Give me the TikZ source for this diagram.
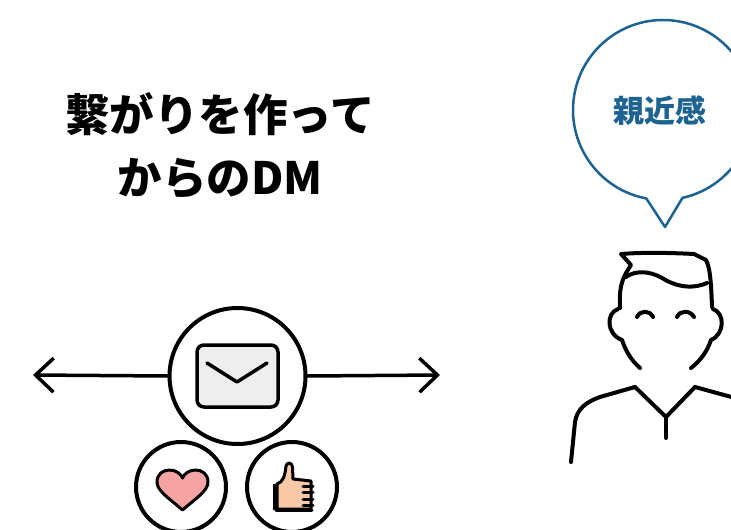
\documentclass[tikz,border=0pt]{standalone}
\usepackage{fontspec}
\setmainfont{Noto Sans CJK JP}
\usepackage{xcolor}
\usetikzlibrary{arrows.meta, positioning, calc}

\definecolor{talkblue}{HTML}{1C6392}
\definecolor{mailgray}{HTML}{EEEEEE}
\definecolor{heartpink}{HTML}{F6A3A3}
\definecolor{skin}{HTML}{F9C8A6}

\begin{document}
\begin{tikzpicture}[x=1pt,y=-1pt,line width=4pt,line cap=round,line join=round,
	>={Straight Barb[length=18pt,width=34pt]}]
	\tikzstyle{ring}=[circle,draw,line width=4pt,inner sep=0pt]
	\tikzstyle{icon}=[line width=3pt]
	\clip (0,0) rectangle (731,530);

	% heading
	\node[align=center,font=\bfseries\fontsize{44.5}{63}\selectfont] (title) at (220,146)
		{繋がりを作って\\からのDM};

	% speech bubble
	\coordinate (bc) at (663,110);
	\draw[talkblue,line width=2.5pt] ($(bc)+(100.7:90)$) arc[start angle=100.7,end angle=437.5,radius=90]
		-- (665,227) -- cycle;
	\node[talkblue,font=\bfseries\fontsize{31}{32}\selectfont] (feel) at (660,111) {親近感};

	% DM in the middle, arrows both ways
	\node[ring,minimum size=136pt] (mail) at (237.5,376) {};
	\coordinate (ltip) at (33,375);
	\coordinate (rtip) at (440,375);
	\draw[->,line width=3.5pt] (mail.west) -- (ltip);
	\draw[->,line width=3.5pt] (mail.east) -- (rtip);
	\draw[icon,line width=3.5pt,fill=mailgray,rounded corners=7pt] (197,345) rectangle (278,407);
	\draw[icon,line width=3.5pt] (207,363) -- (237,382) -- (267,363);

	% like and thumbs up
	\node[ring,minimum size=90pt] (heart) at (181,487) {};
	\node[ring,minimum size=90pt] (thumb) [right=17pt of heart] {};
	\draw[icon,fill=heartpink] (182.5,510) .. controls (170,499) and (157,491) .. (157,482)
		.. controls (157,474) and (163,470) .. (169.5,470)
		.. controls (176,470) and (181,474) .. (182.5,478)
		.. controls (184,474) and (189,470) .. (195.5,470)
		.. controls (202,470) and (208,474) .. (208,482)
		.. controls (208,491) and (195,499) .. (182.5,510) -- cycle;
	\draw[icon,fill=skin] (277,484) .. controls (283,482) and (285,476) .. (286,466)
		.. controls (287,462) and (292,462) .. (292.5,467) -- (293,479) -- (311,481)
		-- (311,509) -- (277,509) -- cycle;
	\draw[icon,line width=5pt,line cap=butt] (275,484) -- (275,510);
	\draw[icon] (276,510) -- (312,510);
	\foreach \fy in {486,492.5,499,505.5}
		\draw[icon] (303,\fy) -- (313,\fy);

	% person
	\draw (620,308) .. controls (619,292) and (621,282) .. (626,273) -- (631,265) -- (621,254)
		.. controls (645,252) and (675,253) .. (694,254) -- (706,260) .. controls (710,268) and (711,280) .. (712,307);
	\draw (626,277) .. controls (634,271) and (648,270) .. (662,278)
		.. controls (675,286) and (690,290) .. (707,283);
	\draw (618,309) .. controls (606,313) and (606,334) .. (622,340)
		.. controls (626,352) and (632,361) .. (640,368);
	\draw (713,309) .. controls (725,313) and (725,334) .. (711,340)
		.. controls (707,352) and (700,361) .. (691,368);
	\draw (637,317) .. controls (640,310) and (650,310) .. (653,317);
	\draw (677,317) .. controls (680,310) and (690,310) .. (694,317);
	\draw (635,387) -- (666,417) -- (695,387);
	\draw (666,417) -- (666,438);
	\draw (635,387) -- (600,397) .. controls (586,402) and (577,409) .. (575,422) -- (571,462);
	\draw (695,387) -- (735,398);
\end{tikzpicture}
\end{document}
